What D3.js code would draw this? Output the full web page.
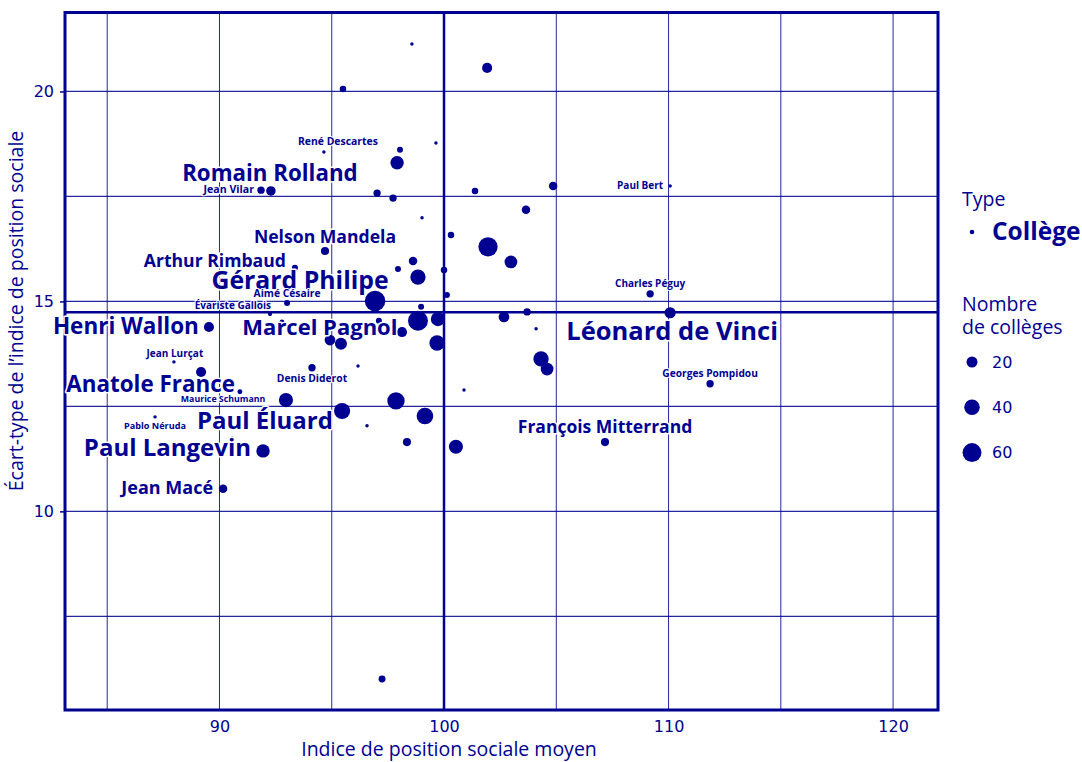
<!DOCTYPE html>
<html>
<head>
<meta charset="utf-8">
<script src="https://cdn.jsdelivr.net/npm/d3@7"></script>
<style>
  body { margin: 0; background: #fff; }
  text { font-family: "Open Sans", sans-serif; fill: #000091; }
  .num { font-family: "DejaVu Sans", sans-serif; }
</style>
</head>
<body>
<svg width="1082" height="762"></svg>
<script>
// indice de position sociale moyen / écart-type / nombre de collèges / nom
var ipsMoyen = [98.57, 101.92, 95.50, 99.64, 94.65, 98.04, 97.91, 91.85, 92.29, 97.02,
  97.73, 101.38, 104.86, 110.07, 103.65, 99.02, 100.31, 94.70, 101.96, 102.98,
  98.62, 97.95, 98.84, 100.0, 100.13, 93.36, 96.93, 98.98, 93.01, 92.25,
  98.84, 99.73, 97.10, 98.13, 94.92, 95.41, 99.69, 102.67, 103.70, 104.10,
  104.32, 104.59, 100.89, 109.18, 110.07, 111.85, 107.17, 100.53, 99.15, 97.86,
  95.46, 96.57, 98.35, 94.12, 96.17, 92.96, 90.91, 89.18, 87.97, 87.13,
  89.53, 91.94, 90.16, 90.56, 97.24, 92.78];
var ecartType = [21.13, 20.56, 20.06, 18.77, 18.56, 18.61, 18.30, 17.65, 17.63, 17.58,
  17.46, 17.63, 17.75, 17.75, 17.18, 16.99, 16.58, 16.20, 16.30, 15.94,
  15.96, 15.77, 15.58, 15.75, 15.15, 15.80, 15.01, 14.87, 14.96, 14.70,
  14.54, 14.58, 14.54, 14.27, 14.08, 13.99, 14.01, 14.63, 14.75, 14.35,
  13.63, 13.39, 12.89, 15.18, 14.73, 13.04, 11.65, 11.54, 12.27, 12.63,
  12.39, 12.04, 11.65, 13.42, 13.46, 12.65, 12.85, 13.32, 13.56, 12.25,
  14.39, 11.44, 10.54, 11.73, 6.01, 14.51];
var nbColleges = [2, 17, 7, 2, 2, 6, 30, 9, 15, 9,
  9, 7, 12, 2, 12, 2, 7, 11, 62, 27,
  12, 6, 39, 7, 6, 6, 70, 6, 6, 3,
  66, 34, 6, 17, 19, 24, 39, 19, 9, 2,
  39, 27, 2, 9, 21, 9, 11, 33, 46, 50,
  43, 2, 11, 9, 2, 33, 4, 17, 2, 2,
  17, 30, 12, 3, 8, 4];
var nomCollege = ["", "", "", "", "René Descartes", "", "", "Jean Vilar", "Romain Rolland", "",
  "", "", "", "Paul Bert", "", "", "", "Nelson Mandela", "", "",
  "", "", "", "", "", "Arthur Rimbaud", "Gérard Philipe", "", "Aimé Césaire", "Évariste Gallois",
  "", "", "Marcel Pagnol", "", "", "", "", "", "", "",
  "", "", "", "Charles Péguy", "Léonard de Vinci", "Georges Pompidou", "François Mitterrand", "", "", "",
  "", "", "", "Denis Diderot", "", "Paul Éluard", "Anatole France", "Maurice Schumann", "Jean Lurçat", "Pablo Néruda",
  "Henri Wallon", "Paul Langevin", "Jean Macé", "", "", ""];

var moyenneIps = 100;
var moyenneEcart = 14.74;

var xGrid = [85, 90, 95, 100, 105, 110, 115, 120];
var yGrid = [7.5, 10, 12.5, 15, 17.5, 20];
var xTicks = [90, 100, 110, 120];
var yTicks = [10, 15, 20];
var legendSizes = [20, 40, 60];

// placement of the names (anchor, offset px from the dot, font size)
var labelLayout = {
  "René Descartes": ["middle", 14, -7, 10.4],
  "Romain Rolland": ["middle", -1, -10, 22.3],
  "Jean Vilar": ["end", -7, 3, 10.6],
  "Nelson Mandela": ["middle", 0, -8, 17.6],
  "Arthur Rimbaud": ["end", -9, -1, 17.6],
  "Gérard Philipe": ["middle", -75, -12, 24.8],
  "Aimé Césaire": ["middle", 0, -6, 10.3],
  "Évariste Gallois": ["end", 1, -5, 10],
  "Henri Wallon": ["end", -10, 7, 22.5],
  "Marcel Pagnol": ["middle", -59, 14, 22],
  "Jean Lurçat": ["middle", 1, -5, 10],
  "Anatole France": ["end", -5, 0, 22.4],
  "Denis Diderot": ["middle", 0, 14, 10.3],
  "Maurice Schumann": ["middle", 22, 30, 8.8],
  "Paul Éluard": ["middle", -21, 29, 24],
  "Pablo Néruda": ["middle", 0, 12, 9.1],
  "Paul Langevin": ["end", -12, 5, 24],
  "Jean Macé": ["end", -10, 5, 18],
  "Charles Péguy": ["middle", 0, -7, 10],
  "Paul Bert": ["end", -7, 3, 10],
  "Léonard de Vinci": ["middle", 2, 27, 25.5],
  "Georges Pompidou": ["middle", 0, -7, 10.2],
  "François Mitterrand": ["middle", 0, -9, 17.5]
};

var blue = "#000091";
var svg = d3.select("svg");
var mLeft = 65, mRight = 938, mTop = 12.5, mBottom = 710;

var x = d3.scaleLinear().domain([83.12, 122.0]).range([mLeft, mRight]);
var y = d3.scaleLinear().domain([5.27, 21.88]).range([mBottom, mTop]);
var r = d3.scaleSqrt().domain([0, 60]).range([0, 9.5]);

var colleges = ipsMoyen.map((d, i) => ({
  ips: d, ecart: ecartType[i], n: nbColleges[i], nom: nomCollege[i]
}));

// grid
svg.append("g")
  .selectAll("line").data(xGrid).enter()
  .append("line")
    .attr("x1", d => x(d)).attr("x2", d => x(d))
    .attr("y1", mTop).attr("y2", mBottom)
    .attr("stroke", blue).attr("stroke-width", 1).attr("stroke-opacity", 0.85);

svg.append("g")
  .selectAll("line").data(yGrid).enter()
  .append("line")
    .attr("x1", mLeft).attr("x2", mRight)
    .attr("y1", d => y(d)).attr("y2", d => y(d))
    .attr("stroke", blue).attr("stroke-width", 1.2).attr("stroke-opacity", 0.85);

// mean lines
svg.append("line")
  .attr("x1", x(moyenneIps)).attr("x2", x(moyenneIps))
  .attr("y1", mTop).attr("y2", mBottom)
  .attr("stroke", blue).attr("stroke-width", 2.5);
svg.append("line")
  .attr("x1", mLeft).attr("x2", mRight)
  .attr("y1", y(moyenneEcart)).attr("y2", y(moyenneEcart))
  .attr("stroke", blue).attr("stroke-width", 2.5);

// frame
svg.append("rect")
  .attr("x", mLeft).attr("y", mTop)
  .attr("width", mRight - mLeft).attr("height", mBottom - mTop)
  .attr("fill", "none").attr("stroke", blue).attr("stroke-width", 3);

// axes
var xAxis = svg.append("g")
  .attr("transform", `translate(0,${mBottom})`)
  .call(d3.axisBottom(x).tickValues(xTicks).tickSize(0).tickPadding(11));
var yAxis = svg.append("g")
  .attr("transform", `translate(${mLeft},0)`)
  .call(d3.axisLeft(y).tickValues(yTicks).tickSize(5).tickPadding(6));
[xAxis, yAxis].forEach(g => {
  g.select(".domain").remove();
  g.selectAll(".tick line").attr("stroke", blue).attr("stroke-width", 1.5);
  g.selectAll(".tick text")
    .attr("fill", blue)
    .style("font-family", "'DejaVu Sans', sans-serif")
    .style("font-size", "16px");
});

svg.append("text")
  .attr("x", 449).attr("y", 756)
  .attr("text-anchor", "middle")
  .style("font-size", "19.5px")
  .text("Indice de position sociale moyen");

svg.append("text")
  .attr("transform", "translate(23,311) rotate(-90)")
  .attr("text-anchor", "middle")
  .style("font-size", "19.5px")
  .text("Écart-type de l’indice de position sociale");

// dots
svg.append("g")
  .selectAll("circle").data(colleges).enter()
  .append("circle")
    .attr("cx", d => x(d.ips))
    .attr("cy", d => y(d.ecart))
    .attr("r", d => r(d.n))
    .attr("fill", blue);

// names
svg.append("g")
  .selectAll("text").data(colleges.filter(d => d.nom)).enter()
  .append("text")
    .attr("x", d => x(d.ips) + labelLayout[d.nom][1])
    .attr("y", d => y(d.ecart) + labelLayout[d.nom][2])
    .attr("text-anchor", d => labelLayout[d.nom][0])
    .style("font-size", d => labelLayout[d.nom][3] + "px")
    .style("font-weight", "bold")
    .attr("stroke", "#fff")
    .attr("stroke-width", d => labelLayout[d.nom][3] > 12 ? 3 : 2)
    .attr("stroke-linejoin", "round")
    .attr("paint-order", "stroke")
    .text(d => d.nom);

// legend
var legend = svg.append("g");
legend.append("text").attr("x", 962).attr("y", 206)
  .style("font-size", "19.5px").text("Type");
legend.append("circle").attr("cx", 972).attr("cy", 232).attr("r", 2.3).attr("fill", blue);
legend.append("text").attr("x", 992).attr("y", 240)
  .style("font-size", "24.5px").style("font-weight", "bold").text("Collège");
legend.append("text").attr("x", 962).attr("y", 311)
  .style("font-size", "19.5px").text("Nombre");
legend.append("text").attr("x", 962).attr("y", 334)
  .style("font-size", "19.5px").text("de collèges");

var sizeItems = legend.selectAll("g.size").data(legendSizes).enter()
  .append("g")
    .attr("class", "size")
    .attr("transform", (d, i) => `translate(972,${362 + i * 45.3})`);
sizeItems.append("circle")
  .attr("r", d => r(d))
  .attr("fill", blue);
sizeItems.append("text")
  .attr("class", "num")
  .attr("x", 20).attr("dy", "0.36em")
  .style("font-size", "16px")
  .text(d => d);
</script>
</body>
</html>
